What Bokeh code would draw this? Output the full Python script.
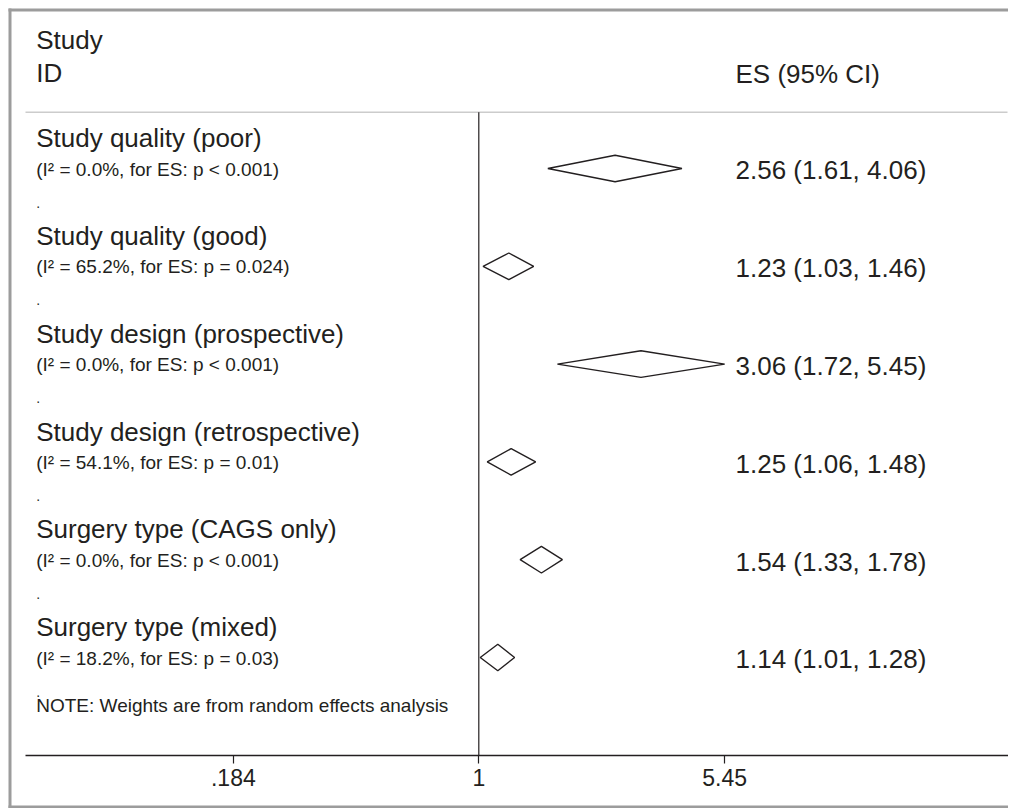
import math
from bokeh.plotting import figure
from bokeh.models import Range1d, FixedTicker
from bokeh.core.properties import value
from bokeh.embed import file_html
from bokeh.resources import INLINE

# ---------------- data ----------------
groups = ["Study quality (poor)", "Study quality (good)", "Study design (prospective)",
          "Study design (retrospective)", "Surgery type (CAGS only)", "Surgery type (mixed)"]
i2_pct = ["0.0", "65.2", "0.0", "54.1", "0.0", "18.2"]
p_vals = ["p < 0.001", "p = 0.024", "p < 0.001", "p = 0.01", "p < 0.001", "p = 0.03"]
es = [2.56, 1.23, 3.06, 1.25, 1.54, 1.14]
ci_lo = [1.61, 1.03, 1.72, 1.06, 1.33, 1.01]
ci_hi = [4.06, 1.46, 5.45, 1.48, 1.78, 1.28]
tick_values = [0.184, 1, 5.45]
tick_labels = [".184", "1", "5.45"]
header_left = ["Study", "ID"]
header_right = "ES (95% CI)"
note = "NOTE: Weights are from random effects analysis"

# ---------------- layout ----------------
W, H = 1008, 808
X_ONE = 478.3       # px of x = 1
PX_PER_LN = 145.0   # px per natural-log unit
Y0, ROW = 70.2, 97.8  # px y = Y0 + ROW * row
TXT_SHIFT = -8.5    # baseline correction (px)


def xpx(px):
    return math.exp((px - X_ONE) / PX_PER_LN)


def ypx(py):
    return (py - Y0) / ROW


FONT = value("Liberation Sans")
INK = "#231f20"
FRAME = "#9c9c9c"

p = figure(width=W, height=H, x_axis_type="log", y_axis_location=None,
           x_range=Range1d(xpx(0), xpx(W)),
           y_range=Range1d(ypx(H), ypx(0)),
           output_backend="svg", toolbar_location=None,
           min_border_left=0, min_border_right=0, min_border_top=0, min_border_bottom=0)
p.background_fill_color = "white"
p.border_fill_color = "white"
p.outline_line_color = None
p.xgrid.visible = False
p.ygrid.visible = False

# grey frame (left, top, bottom; right side is cut off in the original)
p.segment(x0=[xpx(9.5), xpx(8), xpx(8)], y0=[ypx(8), ypx(9.5), ypx(H - 1.5)],
          x1=[xpx(9.5), xpx(W), xpx(W)], y1=[ypx(H), ypx(9.5), ypx(H - 1.5)],
          line_color=FRAME, line_width=3)

rows = list(range(1, len(groups) + 1))
dh = 13.3 / ROW
sh = TXT_SHIFT / ROW

# header
p.text(x=[xpx(35.7)] * 2, y=[ypx(48) + sh, ypx(81) + sh], text=header_left,
       text_font=FONT, text_font_size="26px", text_color=INK,
       text_align="left", text_baseline="alphabetic")
p.text(x=[xpx(735)], y=[ypx(82) + sh], text=[header_right],
       text_font=FONT, text_font_size="26px", text_color=INK,
       text_align="left", text_baseline="alphabetic")
p.segment(x0=[xpx(25)], y0=[ypx(111.7)], x1=[xpx(1007)], y1=[ypx(111.7)],
          line_color="#cccccc", line_width=1.5)

# reference line at 1
p.segment(x0=[1], y0=[ypx(111.7)], x1=[1], y1=[ypx(755)], line_color=INK, line_width=1.2)

# diamonds
xs = [[l, e, h, e] for l, e, h in zip(ci_lo, es, ci_hi)]
ys = [[r, r - dh, r, r + dh] for r in rows]
p.patches(xs=xs, ys=ys, fill_color=None, line_color=INK, line_width=1.4)

# left labels
sub = [f"(I\u00b2 = {i}%, for ES: {pv})" for i, pv in zip(i2_pct, p_vals)]
p.text(x=[xpx(35.7)] * len(rows), y=[r + (-21.9 + TXT_SHIFT) / ROW for r in rows], text=groups,
       text_font=FONT, text_font_size="26px", text_color=INK,
       text_align="left", text_baseline="alphabetic")
p.text(x=[xpx(35.7)] * len(rows), y=[r + (9.0 + TXT_SHIFT) / ROW for r in rows], text=sub,
       text_font=FONT, text_font_size="19px", text_color=INK,
       text_align="left", text_baseline="alphabetic")
p.text(x=[xpx(35.7)] * len(rows), y=[r + (42.5 + TXT_SHIFT) / ROW for r in rows], text=["."] * len(rows),
       text_font=FONT, text_font_size="14px", text_color=INK,
       text_align="left", text_baseline="alphabetic")
p.text(x=[xpx(35.7)], y=[ypx(713.3) + sh], text=[note],
       text_font=FONT, text_font_size="19px", text_color=INK,
       text_align="left", text_baseline="alphabetic")

# ES labels
es_txt = [f"{e:.2f} ({l:.2f}, {h:.2f})" for e, l, h in zip(es, ci_lo, ci_hi)]
p.text(x=[xpx(735)] * len(rows), y=[r + (10.3 + TXT_SHIFT) / ROW for r in rows], text=es_txt,
       text_font=FONT, text_font_size="26px", text_color=INK,
       text_align="left", text_baseline="alphabetic")

# x axis drawn inside the frame
ax = p.xaxis[0]
ax.fixed_location = ypx(755)
ax.bounds = (xpx(25), xpx(1007.7))
ax.ticker = FixedTicker(ticks=tick_values)
ax.major_label_overrides = {v: t for v, t in zip(tick_values, tick_labels)}
ax.major_tick_out = 8
ax.major_tick_in = 0
ax.minor_tick_out = 0
ax.minor_tick_in = 0
ax.axis_line_color = INK
ax.axis_line_width = 1.3
ax.major_tick_line_color = INK
ax.major_tick_line_width = 1.2
ax.major_label_text_font = "Liberation Sans"
ax.major_label_text_font_size = "23px"
ax.major_label_text_color = INK
ax.major_label_standoff = 5

open("out.html", "w").write(file_html(p, INLINE))
